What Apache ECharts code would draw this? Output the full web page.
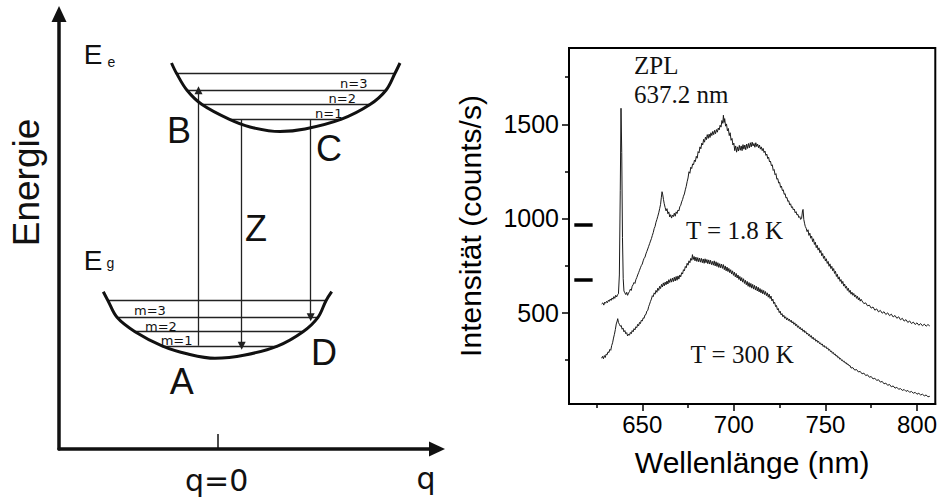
<!DOCTYPE html>
<html><head><meta charset="utf-8">
<script src="https://cdn.jsdelivr.net/npm/echarts@6/dist/echarts.min.js"></script>
<style>html,body{margin:0;padding:0;background:#fff}#c{width:940px;height:497px}</style>
</head><body><div id="c"></div>
<script>
// ---------- Spectrum (right panel) ----------
const xTickValues = [650, 700, 750, 800];
const xMinorTickValues = [625, 675, 725, 775];
const yTickValues = [500, 1000, 1500];
const yMinorTickValues = [250, 750, 1250, 1750];

// T = 1.8 K spectrum [wavelength nm, counts/s]
const spectrumLowT = [[627.8,546],[628.5,552],[629,540],[629.5,556],[630,550],[630.5,560],[631,553],[631.5,566],[632,560],[632.5,572],[633,565],[633.5,578],[634,571],[634.5,585],[635,576],[635.5,592],[636,583],[636.5,595],[637,600],[637.5,700],[638,1150],[638.4,1585],[638.8,1350],[639.2,900],[639.6,680],[640,615],[640.5,605],[641,596],[641.5,608],[642,592],[642.5,604],[643,612],[643.5,625],[644,618],[644.5,640],[645,648],[645.5,660],[646,655],[646.5,675],[647,686],[647.5,700],[648,712],[648.5,725],[649,738],[649.5,750],[650,758],[650.5,775],[651,788],[651.5,795],[652,812],[652.5,825],[653,838],[653.5,852],[654,866],[654.5,880],[655,893],[655.5,910],[656,925],[656.5,946],[657,958],[657.5,980],[658,995],[658.5,1012],[659,1030],[659.5,1052],[660,1075],[660.4,1110],[660.8,1142],[661.2,1125],[661.6,1100],[662,1078],[662.5,1058],[663,1040],[663.5,1052],[664,1025],[664.5,1035],[665,1008],[665.5,1020],[666,1002],[666.5,1018],[667,1010],[667.5,1028],[668,1012],[668.5,1035],[669,1026],[669.5,1045],[670,1040],[670.5,1062],[671,1070],[671.5,1088],[672,1100],[672.5,1118],[673,1130],[673.5,1152],[674,1170],[674.5,1195],[675,1215],[675.5,1248],[676,1240],[676.5,1272],[677,1265],[677.5,1290],[678,1285],[678.5,1310],[679,1302],[679.5,1330],[680,1320],[680.5,1355],[681,1348],[681.5,1380],[682,1370],[682.5,1400],[683,1390],[683.5,1420],[684,1405],[684.5,1432],[685,1418],[685.5,1445],[686,1425],[686.5,1448],[687,1430],[687.5,1455],[688,1440],[688.5,1462],[689,1445],[689.5,1468],[690,1450],[690.5,1472],[691,1458],[691.5,1480],[692,1470],[692.5,1495],[693,1485],[693.5,1520],[694,1505],[694.3,1548],[694.7,1510],[695,1530],[695.5,1490],[696,1502],[696.5,1465],[697,1478],[697.5,1440],[698,1455],[698.5,1415],[699,1425],[699.5,1390],[700,1400],[700.5,1360],[701,1385],[701.5,1352],[702,1380],[702.5,1358],[703,1388],[703.5,1362],[704,1385],[704.5,1360],[705,1392],[705.5,1368],[706,1390],[706.5,1365],[707,1395],[707.5,1372],[708,1398],[708.5,1375],[709,1402],[709.5,1380],[710,1405],[710.5,1385],[711,1398],[711.5,1378],[712,1402],[712.5,1382],[713,1395],[713.5,1375],[714,1390],[714.5,1368],[715,1380],[715.5,1360],[716,1372],[716.5,1350],[717,1358],[717.5,1335],[718,1342],[718.5,1318],[719,1325],[719.5,1300],[720,1305],[720.5,1280],[721,1285],[721.5,1255],[722,1260],[722.5,1232],[723,1238],[723.5,1208],[724,1212],[724.5,1188],[725,1192],[725.5,1165],[726,1172],[726.5,1148],[727,1152],[727.5,1128],[728,1132],[728.5,1108],[729,1112],[729.5,1090],[730,1094],[730.5,1072],[731,1078],[731.5,1058],[732,1062],[732.5,1045],[733,1050],[733.5,1030],[734,1036],[734.5,1018],[735,1022],[735.5,1005],[736,1010],[736.5,995],[737,1000],[737.5,1040],[737.8,1048],[738.2,995],[738.6,975],[739,958],[739.5,948],[740,930],[740.5,940],[741,910],[741.5,922],[742,895],[742.5,906],[743,877],[743.5,892],[744,862],[744.5,874],[745,845],[745.5,858],[746,832],[746.5,844],[747,818],[747.5,830],[748,802],[748.5,814],[749,788],[749.5,800],[750,774],[750.5,786],[751,761],[751.5,772],[752,746],[752.5,759],[753,734],[753.5,746],[754,722],[754.5,734],[755,708],[755.5,720],[756,692],[756.5,704],[757,678],[757.5,690],[758,666],[758.5,676],[759,654],[759.5,666],[760,641],[760.5,652],[761,630],[761.5,640],[762,618],[762.5,630],[763,608],[763.5,619],[764,598],[764.5,609],[765,592],[765.5,602],[766,584],[766.5,594],[767,576],[767.5,587],[768,568],[768.5,579],[769,561],[769.5,571],[770,562],[771,548],[772,552],[773,536],[774,540],[775,524],[776,530],[777,513],[778,520],[779,504],[780,512],[781,497],[782,505],[783,490],[784,499],[785,484],[786,492],[787,477],[788,485],[789,470],[790,478],[791,462],[792,470],[793,455],[794,463],[795,448],[796,456],[797,442],[798,450],[799,437],[800,446],[801,433],[802,442],[803,430],[804,439],[805,428],[806,437],[807,429]];

// T = 300 K spectrum [wavelength nm, counts/s]
const spectrumRoomT = [[627.8,258],[628.3,268],[628.8,255],[629.3,272],[629.8,262],[630.3,280],[630.8,276],[631.3,292],[631.8,288],[632.3,305],[632.8,300],[633.3,325],[633.8,340],[634.3,365],[634.8,385],[635.3,410],[635.8,440],[636.3,455],[636.6,468],[637,448],[637.5,438],[638,428],[638.5,432],[639,412],[639.5,418],[640,398],[640.5,405],[641,388],[641.5,394],[642,376],[642.5,386],[643,380],[643.5,395],[644,388],[644.5,405],[645,398],[645.5,415],[646,408],[646.5,425],[647,420],[647.5,438],[648,430],[648.5,448],[649,442],[649.5,460],[650,455],[650.5,472],[651,470],[651.5,488],[652,490],[652.5,508],[653,512],[653.5,532],[654,545],[654.5,560],[655,572],[655.5,590],[656,585],[656.5,605],[657,598],[657.5,618],[658,608],[658.5,630],[659,618],[659.5,640],[660,628],[660.5,650],[661,636],[661.5,658],[662,642],[662.5,662],[663,648],[663.5,668],[664,652],[664.5,675],[665,660],[665.5,680],[666,662],[666.5,684],[667,665],[667.5,688],[668,668],[668.5,692],[669,672],[669.5,695],[670,678],[670.5,700],[671,690],[671.5,712],[672,705],[672.5,728],[673,722],[673.5,745],[674,738],[674.5,762],[675,752],[675.5,775],[676,765],[676.5,788],[677,778],[677.4,808],[677.8,782],[678.3,798],[678.8,775],[679.3,795],[679.8,772],[680.3,792],[680.8,770],[681.3,790],[681.8,768],[682.3,788],[682.8,765],[683.3,785],[683.8,762],[684.3,786],[684.8,765],[685.3,782],[685.8,760],[686.3,780],[686.8,758],[687.3,778],[687.8,755],[688.3,772],[688.8,752],[689.3,775],[689.8,748],[690.3,770],[690.8,745],[691.3,765],[691.8,740],[692.3,760],[692.8,738],[693.3,758],[693.8,735],[694.3,755],[694.8,728],[695.3,748],[695.8,722],[696.3,742],[696.8,718],[697.3,735],[697.8,712],[698.3,728],[698.8,705],[699.3,722],[699.8,698],[700.3,715],[700.8,690],[701.3,708],[701.8,684],[702.3,700],[702.8,676],[703.3,692],[703.8,668],[704.3,686],[704.8,662],[705.3,680],[705.8,655],[706.3,672],[706.8,648],[707.3,666],[707.8,640],[708.3,660],[708.8,635],[709.3,655],[709.8,630],[710.3,650],[710.8,625],[711.3,645],[711.8,620],[712.3,640],[712.8,615],[713.3,635],[713.8,610],[714.3,628],[714.8,605],[715.3,622],[715.8,600],[716.3,618],[716.8,596],[717.3,612],[717.8,590],[718.3,605],[718.8,582],[719.3,598],[719.8,575],[720.3,588],[720.8,562],[721.3,572],[721.8,548],[722.3,555],[722.8,532],[723.3,538],[723.8,515],[724.3,522],[724.8,500],[725.3,508],[725.8,488],[726.3,495],[726.8,478],[727.3,486],[727.8,470],[728.3,478],[728.8,462],[729.3,472],[729.8,458],[730.3,466],[730.8,452],[731.3,460],[731.8,445],[732.3,452],[732.8,438],[733.3,446],[733.8,430],[734.3,438],[734.8,422],[735.3,430],[735.8,415],[736.3,422],[736.8,408],[737.3,415],[737.8,400],[738.3,408],[738.8,394],[739.3,400],[739.8,386],[740.3,392],[740.8,378],[741.3,385],[741.8,370],[742.3,378],[742.8,362],[743.3,370],[743.8,356],[744.3,362],[744.8,348],[745.3,355],[745.8,342],[746.3,348],[746.8,335],[747.3,340],[747.8,328],[748.3,334],[748.8,320],[749.3,326],[749.8,315],[750.3,320],[750.8,308],[751.3,313],[751.8,300],[752.3,305],[752.8,292],[753.3,297],[753.8,284],[754.3,289],[754.8,277],[755.3,281],[755.8,269],[756.3,273],[756.8,261],[757.3,265],[757.8,253],[758.3,257],[758.8,246],[759.3,249],[759.8,239],[760.3,242],[760.8,232],[761.3,235],[761.8,225],[762.3,228],[762.8,219],[763.5,218],[764,206],[765,208],[766,195],[767,198],[768,185],[769,188],[770,175],[771,179],[772,166],[773,170],[774,157],[775,161],[776,148],[777,152],[778,140],[779,144],[780,131],[781,135],[782,122],[783,126],[784,114],[785,119],[786,106],[787,111],[788,99],[789,104],[790,93],[791,97],[792,87],[793,92],[794,82],[795,87],[796,77],[797,82],[798,72],[799,77],[800,67],[801,72],[802,63],[803,67],[804,58],[805,63],[806,53],[807,56]];

// short marker dashes near the y axis [wavelength, counts]
const markerDashes = [[[612.9, 967], [622.9, 967]], [[612.9, 674], [622.9, 674]]];

// ---------- Configuration-coordinate schematic (left panel) ----------
// schematic units: x = q position, y = energy (arbitrary units)
const excitedBowl = [[171.5,434],[176.5,423.7],[187,406.7],[202,392.4],[229,377.8],[250,370],[280,365.5],[305,368],[341.5,377.8],[370,392.4],[386,406.7],[395,423.7],[400,434]];
const groundBowl = [[103.3,205.3],[108,196.3],[117,179.7],[135,165.3],[162,151.2],[188,143],[215,138.7],[245,142],[278,151.2],[303,165.3],[318,179.7],[326,196.3],[331.7,205.3]];
const excitedLevels = [[176.5,395,423.7],[187,386,406.7],[202,370,392.4],[229,341.5,377.8]]; // [xStart, xEnd, energy]
const groundLevels = [[108,326,196.3],[117,318,179.7],[135,303,165.3],[162,278,151.2]];
const transitions = [[198.5,151.2,406.7],[241.7,377.8,151.2],[310.7,377.8,179.7]]; // [x, fromE, toE]
const qZero = 217.7;

const chart = echarts.init(document.getElementById('c'), null, {renderer: 'svg'});
const SANS = 'Liberation Sans, Arial, sans-serif';
const WIDE = 'DejaVu Sans, sans-serif';
const SERIF = 'Liberation Serif, Times New Roman, serif';

function txt(text, x, y, size, family, align, rot) {
  return {type: 'text', x: x, y: y, rotation: rot || 0, z: 10,
    style: {text: text, fill: '#111', fontSize: size, fontFamily: family,
      align: align || 'center', verticalAlign: 'middle',
      textAlign: align || 'center', textVerticalAlign: 'middle'}};
}

const labels = [
  txt('Energie', 26.5, 182.5, 37, SANS, 'center', Math.PI / 2),
  txt('E', 93, 54, 28, SANS),
  txt('e', 111.5, 62, 14, SANS),
  txt('E', 93, 260, 28, SANS),
  txt('g', 110.5, 263, 14, SANS),
  txt('B', 179, 130, 36, SANS),
  txt('C', 329, 148.5, 36, SANS),
  txt('Z', 256, 228.5, 36, SANS),
  txt('D', 324, 352.5, 36, SANS),
  txt('A', 181.7, 381, 36, SANS),
  txt('n=3', 367.5, 83.7, 13, WIDE, 'right'),
  txt('n=2', 356, 98.9, 13, WIDE, 'right'),
  txt('n=1', 342.5, 113.2, 13, WIDE, 'right'),
  txt('m=3', 134, 310.6, 13, WIDE, 'left'),
  txt('m=2', 145, 326.4, 13, WIDE, 'left'),
  txt('m=1', 160.7, 340.9, 13, WIDE, 'left'),
  txt('q=0', 216.7, 480.4, 30, WIDE),
  txt('q', 426, 478, 30, WIDE),
  txt('ZPL', 634, 65, 25, SERIF, 'left'),
  txt('637.2 nm', 634, 94.4, 25, SERIF, 'left'),
  txt('T = 1.8 K', 686, 230.4, 25, SERIF, 'left'),
  txt('T = 300 K', 690.5, 354.4, 25, SERIF, 'left')
];

const black = '#000';
const option = {
  animation: false,
  backgroundColor: '#fff',
  graphic: {elements: labels},
  grid: [
    {left: 569, top: 48, width: 369, height: 356, show: true, borderColor: black, borderWidth: 2, backgroundColor: 'transparent'},
    {left: 59, top: 14, width: 378, height: 435, show: false}
  ],
  xAxis: [
    {type: 'value', gridIndex: 0, min: 610, max: 810, position: 'bottom',
      axisLine: {show: true, lineStyle: {color: black, width: 2}},
      axisTick: {show: true, customValues: xTickValues, length: 7, lineStyle: {color: black, width: 1.5}},
      axisLabel: {show: true, customValues: xTickValues, fontSize: 24, color: black, fontFamily: SANS, margin: 8,
        formatter: v => String(v)},
      splitLine: {show: false},
      name: 'Wellenlänge (nm)', nameLocation: 'middle', nameGap: 43,
      nameTextStyle: {fontSize: 30, color: black, fontFamily: SANS}},
    {type: 'value', gridIndex: 0, min: 610, max: 810, position: 'bottom',
      axisLine: {show: false},
      axisTick: {show: true, customValues: xMinorTickValues, length: 4, lineStyle: {color: black, width: 1.5}},
      axisLabel: {show: false}, splitLine: {show: false}},
    {type: 'value', gridIndex: 1, min: 59, max: 437, position: 'bottom',
      axisLine: {show: true, symbol: ['none', 'triangle'], symbolSize: [15, 16], lineStyle: {color: '#111', width: 3.5}},
      axisTick: {show: true, inside: true, customValues: [qZero], length: 15, lineStyle: {color: '#111', width: 1.5}},
      axisLabel: {show: false}, splitLine: {show: false}}
  ],
  yAxis: [
    {type: 'value', gridIndex: 0, min: 15, max: 1905, position: 'left',
      axisLine: {show: true, lineStyle: {color: black, width: 2}},
      axisTick: {show: true, customValues: yTickValues, length: 7, lineStyle: {color: black, width: 1.5}},
      axisLabel: {show: true, customValues: yTickValues, fontSize: 25, color: black, fontFamily: SANS, margin: 10,
        formatter: v => String(v)},
      splitLine: {show: false},
      name: 'Intensität (counts/s)', nameLocation: 'middle', nameGap: 84,
      nameTextStyle: {fontSize: 30, color: black, fontFamily: SANS}},
    {type: 'value', gridIndex: 0, min: 15, max: 1905, position: 'left',
      axisLine: {show: false},
      axisTick: {show: true, customValues: yMinorTickValues, length: 4, lineStyle: {color: black, width: 1.5}},
      axisLabel: {show: false}, splitLine: {show: false}},
    {type: 'value', gridIndex: 1, min: 48, max: 483, position: 'left',
      axisLine: {show: true, symbol: ['none', 'triangle'], symbolSize: [15, 16], lineStyle: {color: '#111', width: 3.5}},
      axisTick: {show: false}, axisLabel: {show: false}, splitLine: {show: false}}
  ],
  series: [
    {type: 'line', xAxisIndex: 0, yAxisIndex: 0, data: spectrumLowT, showSymbol: false, symbol: 'none',
      lineStyle: {color: '#1a1a1a', width: 1}},
    {type: 'line', xAxisIndex: 0, yAxisIndex: 0, data: spectrumRoomT, showSymbol: false, symbol: 'none',
      lineStyle: {color: '#1a1a1a', width: 1}},
    {type: 'lines', coordinateSystem: 'cartesian2d', xAxisIndex: 0, yAxisIndex: 0,
      data: markerDashes.map(c => ({coords: c})), symbol: 'none',
      lineStyle: {color: black, width: 3.5, opacity: 1}},
    {type: 'line', xAxisIndex: 2, yAxisIndex: 2, data: excitedBowl, smooth: 0.35, symbol: 'none',
      lineStyle: {color: '#111', width: 3}},
    {type: 'line', xAxisIndex: 2, yAxisIndex: 2, data: groundBowl, smooth: 0.35, symbol: 'none',
      lineStyle: {color: '#111', width: 3}},
    {type: 'lines', coordinateSystem: 'cartesian2d', xAxisIndex: 2, yAxisIndex: 2, symbol: 'none',
      data: excitedLevels.concat(groundLevels).map(l => ({coords: [[l[0], l[2]], [l[1], l[2]]]})),
      lineStyle: {color: '#222', width: 1.3, opacity: 1}},
    {type: 'lines', coordinateSystem: 'cartesian2d', xAxisIndex: 2, yAxisIndex: 2,
      symbol: ['none', 'triangle'], symbolSize: 8,
      data: transitions.map(t => ({coords: [[t[0], t[1]], [t[0], t[2]]]})),
      lineStyle: {color: '#222', width: 1.3, opacity: 1}}
  ]
};
chart.setOption(option);
</script></body></html>
